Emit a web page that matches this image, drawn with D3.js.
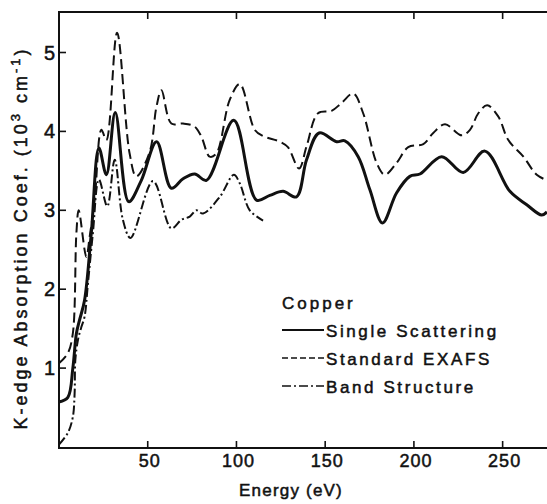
<!DOCTYPE html>
<meta charset="utf-8">
<style>
body { margin: 0; background: #fff; }
svg { display: block; }
.lbl { font-family: "Liberation Sans", Arial, sans-serif; fill: #111; stroke: #111; stroke-width: 0.5px; }
.line { fill: none; stroke: #111; }
</style>
<body>
<script src="https://cdn.jsdelivr.net/npm/d3@7"></script>
<script>

// energies (eV) and absorption values (10^3 cm^-1)
var singleE = [0, 5, 7.8, 9.8, 11.6, 14.4, 18.2, 22.5, 26.7, 31.7, 39.3, 46.4, 55, 63.3, 69.9, 76.5, 83.1, 98.5, 111.3, 118.8, 126.3, 133.8, 139.5, 146.6, 156.4, 161.1, 168.6, 175.2, 182.3, 190.2, 197.7, 203.4, 215.6, 227.8, 240, 254.1, 263.6, 272, 275];
var singleV = [0.57, 0.63, 1.0, 1.44, 1.61, 1.86, 2.71, 3.79, 3.45, 4.24, 3.11, 3.38, 3.87, 3.28, 3.40, 3.46, 3.38, 4.14, 3.13, 3.19, 3.24, 3.17, 3.64, 3.98, 3.87, 3.88, 3.68, 3.26, 2.84, 3.22, 3.43, 3.46, 3.68, 3.48, 3.75, 3.24, 3.07, 2.94, 2.98];

var exafsE = [0, 5, 7.8, 9.8, 11.1, 15.4, 17.3, 20.1, 23.9, 26.7, 32.7, 39.8, 43.6, 51.1, 54.9, 57.7, 63.3, 69.9, 76.5, 80.3, 84.9, 88.7, 96.2, 101.9, 110.3, 115, 124.4, 129, 135.3, 139.5, 146, 153.6, 159.2, 165.8, 171.4, 179, 183.6, 190.2, 196.8, 205.3, 210.9, 217.5, 226.9, 231.6, 236.3, 241.3, 247.5, 253.2, 261.7, 269.2, 275];
var exafsV = [1.06, 1.19, 1.44, 2.71, 3.0, 2.41, 2.67, 3.13, 4.02, 3.89, 5.25, 3.72, 3.43, 3.74, 4.31, 4.52, 4.10, 4.10, 4.06, 3.93, 3.68, 3.72, 4.40, 4.60, 4.02, 3.94, 3.87, 3.80, 3.53, 3.81, 4.23, 4.26, 4.36, 4.48, 4.23, 3.60, 3.45, 3.60, 3.80, 3.84, 3.98, 4.09, 3.95, 4.02, 4.23, 4.33, 4.19, 3.89, 3.68, 3.45, 3.38];

var bandE = [0, 5, 7.8, 8.8, 9.2, 10.7, 12.6, 14.4, 16.3, 19.1, 22.5, 27.2, 31.4, 36, 40.3, 53, 63.3, 69, 73.7, 77.4, 81.2, 90.6, 98.5, 101.9, 107.5, 115];
var bandV = [0.03, 0.18, 0.38, 0.68, 1.10, 1.36, 1.52, 1.65, 2.07, 2.71, 3.39, 3.05, 3.64, 2.88, 2.65, 3.37, 2.77, 2.88, 2.92, 3.0, 2.96, 3.17, 3.45, 3.34, 3.0, 2.87];

var xTicks = [50, 100, 150, 200, 250];
var yTicks = [1, 2, 3, 4, 5];
var legendNames = ["Single Scattering", "Standard EXAFS", "Band Structure"];

var W = 547, H = 504;
var margin = {top: 12, right: 0, bottom: 56, left: 59};

var svg = d3.select("body").append("svg")
  .attr("width", W)
  .attr("height", H);

var x = d3.scaleLinear().domain([0, 275]).range([margin.left, W - margin.right]);
var y = d3.scaleLinear().domain([0, 5.5]).range([447, 447 - 5.5 * 78.9]);

// frame
svg.append("path")
  .attr("d", "M" + W + "," + margin.top + "H" + margin.left + "V" + 448 + "H" + W)
  .attr("fill", "none").attr("stroke", "#111").attr("stroke-width", 2);

// inward ticks
svg.selectAll(".ytick").data(yTicks).enter().append("line")
  .attr("x1", margin.left).attr("x2", margin.left + 7)
  .attr("y1", function(d) { return y(d); }).attr("y2", function(d) { return y(d); })
  .attr("stroke", "#111").attr("stroke-width", 1.6);

svg.selectAll(".xtickb").data(xTicks).enter().append("line")
  .attr("x1", function(d) { return x(d); }).attr("x2", function(d) { return x(d); })
  .attr("y1", 448).attr("y2", 441)
  .attr("stroke", "#111").attr("stroke-width", 1.6);

svg.selectAll(".xtickt").data(xTicks).enter().append("line")
  .attr("x1", function(d) { return x(d); }).attr("x2", function(d) { return x(d); })
  .attr("y1", margin.top).attr("y2", margin.top + 7)
  .attr("stroke", "#111").attr("stroke-width", 1.6);

// tick labels
svg.selectAll(".ylab").data(yTicks).enter().append("text")
  .attr("class", "lbl")
  .attr("x", 55).attr("y", function(d) { return y(d) + 7; })
  .attr("text-anchor", "end")
  .style("font-size", "20px")
  .text(function(d) { return d; });

svg.selectAll(".xlab").data(xTicks).enter().append("text")
  .attr("class", "lbl")
  .attr("x", function(d) { return x(d) + 2; }).attr("y", 467)
  .attr("text-anchor", "middle")
  .style("font-size", "18px").style("letter-spacing", "1px")
  .text(function(d) { return d; });

// axis titles
svg.append("text").attr("class", "lbl")
  .attr("x", 291).attr("y", 496)
  .attr("text-anchor", "middle")
  .style("font-size", "17px").style("letter-spacing", "1.2px")
  .text("Energy (eV)");

var yt = svg.append("text").attr("class", "lbl")
  .attr("transform", "translate(27,238) rotate(-90)")
  .attr("text-anchor", "middle")
  .style("font-size", "18px").style("letter-spacing", "3px");
yt.append("tspan").text("K-edge  Absorption  Coef.  (10");
yt.append("tspan").attr("dy", -7).style("font-size", "13px").text("3");
yt.append("tspan").attr("dy", 7).text(" cm");
yt.append("tspan").attr("dy", -7).style("font-size", "13px").text("-1");
yt.append("tspan").attr("dy", 7).text(")");

// curves
var lineGen = d3.line()
  .x(function(d) { return x(d[0]); })
  .y(function(d) { return y(d[1]); })
  .curve(d3.curveCatmullRom.alpha(0.5));

var series = [
  {e: singleE, v: singleV, w: 3, dash: null},
  {e: exafsE, v: exafsV, w: 2, dash: "10,5"},
  {e: bandE, v: bandV, w: 2, dash: "9,3,2,3"}
];

series.forEach(function(s) {
  var pts = s.e.map(function(e, i) { return [e, s.v[i]]; });
  svg.append("path")
    .attr("class", "line")
    .attr("d", lineGen(pts))
    .attr("stroke-width", s.w)
    .attr("stroke-dasharray", s.dash);
});

// legend
var lg = svg.append("g");
lg.append("text").attr("class", "lbl")
  .attr("x", 282).attr("y", 309)
  .style("font-size", "17px").style("letter-spacing", "3px")
  .text("Copper");

legendNames.forEach(function(name, i) {
  var yy = 330 + i * 28;
  lg.append("line")
    .attr("x1", 282).attr("x2", 324)
    .attr("y1", yy).attr("y2", yy)
    .attr("stroke", "#111")
    .attr("stroke-width", i === 0 ? 2 : 1.5)
    .attr("stroke-dasharray", series[i].dash ? (i === 1 ? "6,3" : "9,3,2,3") : null);
  lg.append("text").attr("class", "lbl")
    .attr("x", 326).attr("y", yy + 7)
    .style("font-size", "17px").style("letter-spacing", "2.6px")
    .text(name);
});

</script>
</body>
